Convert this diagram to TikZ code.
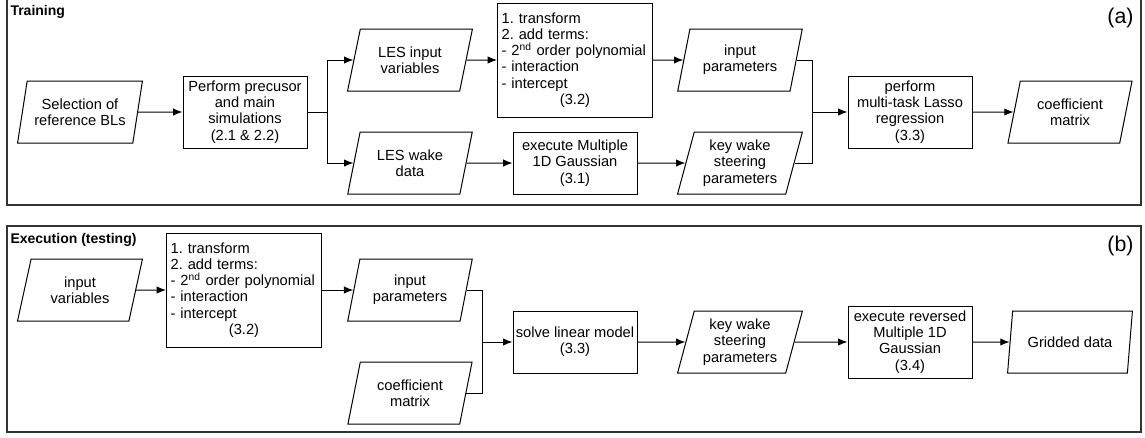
\documentclass[tikz,border=0pt]{standalone}
\usepackage{fontspec}
\setmainfont{Liberation Sans}
\usetikzlibrary{shapes.geometric,arrows.meta}

\begin{document}
\begin{tikzpicture}[x=0.75pt,y=-0.75pt,
  every path/.style={>={Latex[length=7pt,width=5.5pt]},line width=0.75pt},
  every node/.style={font=\fontsize{11}{12.2}\selectfont,align=center},
  inout/.style={draw,trapezium,trapezium left angle=74,trapezium right angle=106,
    trapezium stretches=true,minimum width=93.75pt,minimum height=46.5pt,inner sep=1pt},
  proc/.style={draw,rectangle,minimum width=93pt,minimum height=46.5pt,inner sep=2pt},
  tallproc/.style={proc,minimum height=54pt},
  termsbox/.style={proc,text width=110pt,align=left,minimum width=116.25pt,minimum height=85.5pt},
  heading/.style={anchor=base west,inner sep=0pt,font=\fontsize{10.5}{12}\selectfont\bfseries},
  panel/.style={anchor=base east,inner sep=0pt,font=\fontsize{16}{18}\selectfont}]
\useasboundingbox (0,0) rectangle (1145,437);
\draw[line width=1pt,black!80] (7,-2)  rectangle (1141,205);
\draw[line width=1pt,black!80] (7,226) rectangle (1141,432);

\node[heading] (train) at (10,15)   {Training};
\node[panel]   (pa)    at (1134,23) {(a)};
\node[heading] (exec)  at (10,243)  {Execution (testing)};
\node[panel]   (pb)    at (1134,251) {(b)};

\node[inout]    (sel)     at (80,112)  {Selection of\\reference BLs};
\node[tallproc] (perf)    at (245,112) {Perform precusor\\and main\\simulations\\(2.1 \& 2.2)};
\node[inout]    (lesin)   at (410,60)  {LES input\\variables};
\node[inout]    (leswake) at (410,163) {LES wake\\data};
\node[termsbox] (trans)   at (575,60)  {1.\ transform\\2.\ add terms:\\- 2\textsuperscript{nd} order polynomial\\- interaction\\- intercept\\\makebox[110pt]{(3.2)}};
\node[proc]     (gauss)   at (575,163) {execute Multiple\\1D Gaussian\\(3.1)};
\node[inout]    (inpar)   at (740,60)  {input\\parameters};
\node[inout]    (keywake) at (740,163) {key wake\\steering\\parameters};
\node[tallproc] (lasso)   at (910,112) {perform\\multi-task Lasso\\regression\\(3.3)};
\node[inout]    (coef)    at (1070,112) {coefficient\\matrix};
\coordinate     (brA)     at (327,112);
\coordinate     (mgA)     at (812,112);

\node[inout]    (invar)    at (80,290)  {input\\variables};
\node[termsbox] (trans2)   at (244,290) {1.\ transform\\2.\ add terms:\\- 2\textsuperscript{nd} order polynomial\\- interaction\\- intercept\\\makebox[110pt]{(3.2)}};
\node[inout]    (inpar2)   at (410,290) {input\\parameters};
\node[inout]    (coef2)    at (410,393) {coefficient\\matrix};
\node[proc]     (solve)    at (575,342) {solve linear model\\(3.3)};
\node[inout]    (keywake2) at (740,342) {key wake\\steering\\parameters};
\node[tallproc] (exrev)    at (910,342) {execute reversed\\Multiple 1D\\Gaussian\\(3.4)};
\node[inout]    (grid)     at (1070,342) {Gridded data};
\coordinate     (mgB)      at (482,342);

\draw[->] (sel) -- (perf);
\draw     (perf) -- (brA);
\draw[->] (brA) |- (lesin);
\draw[->] (brA) |- (leswake);
\draw[->] (lesin) -- (trans);
\draw[->] (leswake) -- (gauss);
\draw[->] (trans) -- (inpar);
\draw[->] (gauss) -- (keywake);
\draw     (inpar) -| (mgA);
\draw     (keywake) -| (mgA);
\draw[->] (mgA) -- (lasso);
\draw[->] (lasso) -- (coef);

\draw[->] (invar) -- (trans2);
\draw[->] (trans2) -- (inpar2);
\draw     (inpar2) -| (mgB);
\draw     (coef2) -| (mgB);
\draw[->] (mgB) -- (solve);
\draw[->] (solve) -- (keywake2);
\draw[->] (keywake2) -- (exrev);
\draw[->] (exrev) -- (grid);
\end{tikzpicture}
\end{document}
